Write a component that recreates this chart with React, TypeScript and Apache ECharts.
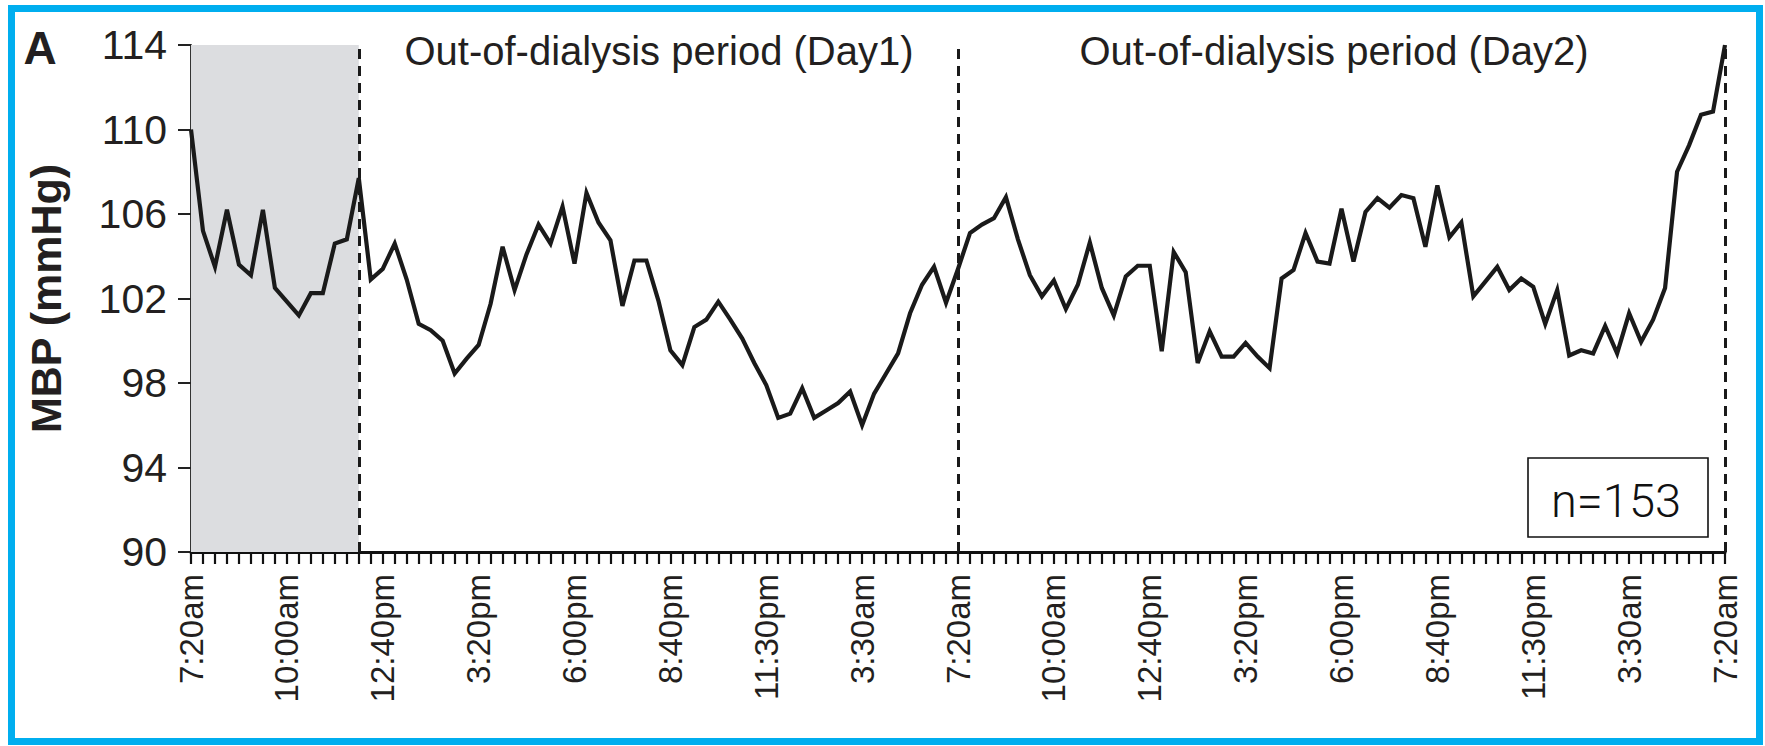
import React, { useEffect, useRef } from "react";
import * as echarts from "echarts";

// ---- data ----
const tickLabels = [
  "7:20am", "10:00am", "12:40pm", "3:20pm", "6:00pm", "8:40pm", "11:30pm", "3:30am",
  "7:20am", "10:00am", "12:40pm", "3:20pm", "6:00pm", "8:40pm", "11:30pm", "3:30am",
  "7:20am",
];
const ticksPerLabel = 8;

const mbp = [
  110.0, 105.2, 103.5, 106.2, 103.6, 103.1, 106.2, 102.5, 101.85, 101.2,
  102.25, 102.25, 104.6, 104.8, 107.7, 102.9, 103.4, 104.6, 102.9, 100.8,
  100.5, 100.0, 98.45, 99.15, 99.8, 101.75, 104.45, 102.4, 104.1, 105.5,
  104.6, 106.35, 103.65, 107.0, 105.6, 104.75, 101.65, 103.8, 103.8, 101.9,
  99.55, 98.85, 100.65, 101.0, 101.85, 101.0, 100.1, 98.95, 97.9, 96.35,
  96.55, 97.75, 96.35, 96.7, 97.05, 97.6, 96.0, 97.5, 98.45, 99.4,
  101.3, 102.65, 103.5, 101.8, 103.4, 105.1, 105.5, 105.8, 106.8, 104.8,
  103.1, 102.1, 102.85, 101.5, 102.65, 104.65, 102.5, 101.2, 103.05, 103.55,
  103.55, 99.5, 104.2, 103.25, 98.95, 100.45, 99.25, 99.25, 99.9, 99.25,
  98.7, 102.95, 103.35, 105.1, 103.75, 103.65, 106.25, 103.75, 106.1, 106.75,
  106.3, 106.9, 106.75, 104.45, 107.35, 104.9, 105.6, 102.1, 102.8, 103.5,
  102.4, 102.95, 102.55, 100.8, 102.4, 99.3, 99.55, 99.4, 100.7, 99.4,
  101.3, 99.95, 101.0, 102.5, 108.0, 109.25, 110.7, 110.85, 114.0,
];

const yMin = 90;
const yMax = 114;
const yStep = 4;

const dialysisEndIndex = 14;
const periodBoundaries = [14, 64, 128];
const periodLabels = ["Out-of-dialysis period (Day1)", "Out-of-dialysis period (Day2)"];
const panelLabel = "A";
const sampleLabel = "n=153";
const yAxisName = "MBP (mmHg)";

const categories = mbp.map((_, i) =>
  i % ticksPerLabel === 0 ? tickLabels[i / ticksPerLabel] ?? "" : ""
);

const FONT = "'Liberation Sans', Arial, Helvetica, sans-serif";
const INK = "#231f20";

export default function App() {
  const ref = useRef<HTMLDivElement>(null);

  useEffect(() => {
    if (!ref.current) return;
    const chart = echarts.init(ref.current, undefined, { renderer: "svg" });

    const option: any = {
      animation: false,
      backgroundColor: "#ffffff",
      grid: { left: 191, right: 40, top: 45, bottom: 194, containLabel: false },
      xAxis: {
        type: "category",
        data: categories,
        boundaryGap: false,
        axisLine: { show: true, lineStyle: { color: "#111", width: 3 } },
        axisTick: {
          show: true,
          interval: 0,
          inside: false,
          length: 12,
          lineStyle: { color: "#111", width: 2.2 },
        },
        axisLabel: {
          show: true,
          interval: 0,
          rotate: 90,
          margin: 22,
          fontSize: 33,
          fontFamily: FONT,
          color: INK,
        },
        splitLine: { show: false },
      },
      yAxis: {
        type: "value",
        min: yMin,
        max: yMax,
        interval: yStep,
        name: yAxisName,
        nameLocation: "middle",
        nameRotate: 90,
        nameGap: 124,
        nameTextStyle: {
          fontSize: 43,
          fontWeight: "bold",
          fontFamily: FONT,
          color: INK,
        },
        axisLine: { show: true, lineStyle: { color: "#333", width: 2 } },
        axisTick: { show: true, inside: false, length: 13, lineStyle: { color: "#222", width: 2 } },
        axisLabel: {
          margin: 24,
          fontSize: 41,
          fontFamily: FONT,
          color: INK,
        },
        splitLine: { show: false },
      },
      series: [
        {
          type: "line",
          data: mbp,
          symbol: "none",
          lineStyle: { color: "#1a1a1a", width: 4.2, join: "miter", miterLimit: 4 },
          z: 5,
          markArea: {
            silent: true,
            itemStyle: { color: "#dcdde0", opacity: 1 },
            data: [[{ xAxis: 0 }, { xAxis: dialysisEndIndex }]],
            z: 1,
          },
          markLine: {
            silent: true,
            symbol: ["none", "none"],
            label: { show: false },
            lineStyle: { color: "#1a1a1a", width: 3, type: [10, 7] },
            data: periodBoundaries.map((b) => ({ xAxis: b })),
          },
        },
      ],
      graphic: [
        {
          type: "rect",
          shape: { x: 11.5, y: 8.5, width: 1748, height: 733 },
          style: { fill: "none", stroke: "#00AEEF", lineWidth: 7 },
          silent: true,
          z: 100,
        },
        {
          type: "text",
          x: 40,
          y: 48,
          style: {
            text: panelLabel,
            fontSize: 46,
            fontWeight: "bold",
            fontFamily: FONT,
            fill: INK,
            textAlign: "center",
            textVerticalAlign: "middle",
          },
        },
        {
          type: "text",
          x: 659,
          y: 51,
          style: {
            text: periodLabels[0],
            fontSize: 40,
            fontFamily: FONT,
            fill: INK,
            textAlign: "center",
            textVerticalAlign: "middle",
          },
        },
        {
          type: "text",
          x: 1334,
          y: 51,
          style: {
            text: periodLabels[1],
            fontSize: 40,
            fontFamily: FONT,
            fill: INK,
            textAlign: "center",
            textVerticalAlign: "middle",
          },
        },
        {
          type: "rect",
          shape: { x: 1528, y: 458, width: 180, height: 79 },
          style: { fill: "#ffffff", stroke: "#111", lineWidth: 1.6 },
          z: 50,
        },
        {
          type: "text",
          x: 1616,
          y: 500,
          z: 51,
          style: {
            text: sampleLabel,
            fontSize: 47,
            fontWeight: 300,
            fontFamily: "Roboto, 'Noto Sans', sans-serif",
            fill: "#111",
            textAlign: "center",
            textVerticalAlign: "middle",
          },
        },
      ],
    };

    chart.setOption(option);
    return () => chart.dispose();
  }, []);

  return (
    <div
      ref={ref}
      style={{ position: "absolute", left: 0, top: 0, width: 1765, height: 746, background: "#fff" }}
    />
  );
}
